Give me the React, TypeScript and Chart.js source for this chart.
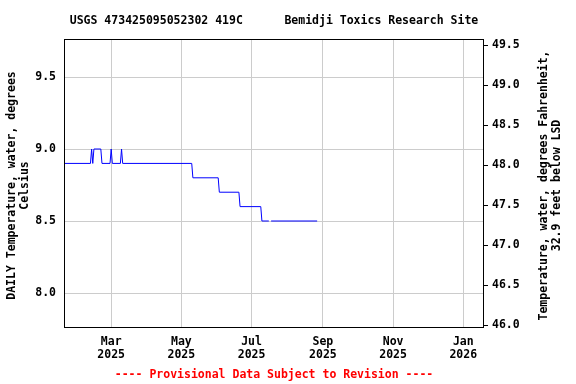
import React, { useEffect, useRef } from "react";
import { Chart, registerables } from "chart.js";

Chart.register(...registerables);

// ---- data ----
const obsDates = [
  "2025-01-19", "2025-02-11", "2025-02-12", "2025-02-13", "2025-02-14",
  "2025-02-20", "2025-02-21", "2025-02-28", "2025-03-01", "2025-03-02",
  "2025-03-09", "2025-03-10", "2025-03-11", "2025-05-10", "2025-05-11",
  "2025-06-02", "2025-06-03", "2025-06-20", "2025-06-21", "2025-07-09",
  "2025-07-10", "2025-07-16", "2025-07-17", "2025-07-18", "2025-08-27",
];
const obsValuesC: (number | null)[] = [
  8.9, 8.9, 9.0, 8.9, 9.0,
  9.0, 8.9, 8.9, 9.0, 8.9,
  8.9, 9.0, 8.9, 8.9, 8.8,
  8.8, 8.7, 8.7, 8.6, 8.6,
  8.5, 8.5, null, 8.5, 8.5,
];
const xRange = ["2025-01-19", "2026-01-19"];
const xTickDates = ["2025-03-01", "2025-05-01", "2025-07-01", "2025-09-01", "2025-11-01", "2026-01-01"];
const monthNames = ["Jan", "Feb", "Mar", "Apr", "May", "Jun", "Jul", "Aug", "Sep", "Oct", "Nov", "Dec"];
const yRangeC = [7.757, 9.764];
const leftTicks = [8.0, 8.5, 9.0, 9.5];
const rightTicks = [46.0, 46.5, 47.0, 47.5, 48.0, 48.5, 49.0, 49.5];

const titleText = "USGS 473425095052302 419C      Bemidji Toxics Research Site";
const leftTitle = ["DAILY Temperature, water, degrees", "Celsius"];
const rightTitle = ["Temperature, water, degrees Fahrenheit,", "32.9 feet below LSD"];
const footerText = "---- Provisional Data Subject to Revision ----";

const FONT_FAMILY = "'DejaVu Sans Mono', monospace";
const FONT_SIZE = 11.5;
const fontSpec = { family: FONT_FAMILY, size: FONT_SIZE, weight: "bold" as const, lineHeight: 1.13 };
const cssFont = `bold ${FONT_SIZE}px ${FONT_FAMILY}`;

const ts = (d: string) => new Date(d + "T00:00:00Z").getTime();
const toF = (c: number) => c * 1.8 + 32;

const decorPlugin = {
  id: "decor",
  afterDatasetsDraw(chart: any) {
    const { ctx, chartArea } = chart;
    const { left, right, top, bottom } = chartArea;
    ctx.save();
    // plot frame
    ctx.strokeStyle = "#000";
    ctx.lineWidth = 1;
    ctx.strokeRect(Math.round(left) + 0.5, Math.round(top) + 0.5, Math.round(right - left) - 1, Math.round(bottom - top) - 1);
    ctx.restore();
  },
  afterDraw(chart: any) {
    const { ctx, chartArea } = chart;
    const { left, right, top, bottom } = chartArea;
    const cx = (left + right) / 2;
    const cy = (top + bottom) / 2 + 2;
    ctx.save();
    ctx.font = cssFont;
    ctx.fillStyle = "#000";
    ctx.textAlign = "center";
    ctx.textBaseline = "middle";
    ctx.fillText(titleText, cx, 21);

    // left axis title
    const drawRot = (lines: string[], xs: number[]) => {
      lines.forEach((ln, i) => {
        ctx.save();
        ctx.translate(xs[i], cy);
        ctx.rotate(-Math.PI / 2);
        ctx.fillText(ln, 0, 0);
        ctx.restore();
      });
    };
    drawRot(leftTitle, [12, 25]);
    drawRot(rightTitle, [544, 557]);

    ctx.fillStyle = "#ff0000";
    ctx.fillText(footerText, cx, 375);
    ctx.restore();
  },
};

export default function App() {
  const canvasRef = useRef<HTMLCanvasElement | null>(null);

  useEffect(() => {
    if (!canvasRef.current) return;
    const points = obsDates.map((d, i) => ({ x: ts(d), y: obsValuesC[i] }));
    const chart = new Chart(canvasRef.current, {
      type: "line",
      data: {
        datasets: [
          {
            data: points as any,
            borderColor: "#0000ff",
            borderWidth: 1,
            pointRadius: 0,
            tension: 0,
            spanGaps: false,
            fill: false,
            yAxisID: "y",
            xAxisID: "x",
          },
        ],
      },
      options: {
        animation: false,
        responsive: false,
        maintainAspectRatio: false,
        layout: { padding: { top: 39, left: 0, right: 0, bottom: 0 } },
        plugins: {
          legend: { display: false },
          tooltip: { enabled: false },
          title: { display: false },
        },
        scales: {
          x: {
            type: "linear",
            position: "bottom",
            min: ts(xRange[0]),
            max: ts(xRange[1]),
            afterFit: (s: any) => {
              s.height = 56;
            },
            afterBuildTicks: (s: any) => {
              s.ticks = xTickDates.map((d) => ({ value: ts(d) }));
            },
            ticks: {
              autoSkip: false,
              maxRotation: 0,
              minRotation: 0,
              padding: 8,
              color: "#000",
              font: fontSpec,
              callback: (v: any) => {
                const dt = new Date(Number(v));
                return [monthNames[dt.getUTCMonth()], String(dt.getUTCFullYear())];
              },
            },
            grid: { color: "#cccccc", lineWidth: 1, drawTicks: false },
            border: { display: false },
          },
          y: {
            type: "linear",
            position: "left",
            min: yRangeC[0],
            max: yRangeC[1],
            afterFit: (s: any) => {
              s.width = 64;
            },
            afterBuildTicks: (s: any) => {
              s.ticks = leftTicks.map((v) => ({ value: v }));
            },
            ticks: {
              padding: 8,
              color: "#000",
              font: fontSpec,
              callback: (v: any) => Number(v).toFixed(1),
            },
            grid: { color: "#cccccc", lineWidth: 1, drawTicks: false },
            border: { display: false },
          },
          y2: {
            type: "linear",
            position: "right",
            min: toF(yRangeC[0]),
            max: toF(yRangeC[1]),
            afterFit: (s: any) => {
              s.width = 92;
            },
            afterBuildTicks: (s: any) => {
              s.ticks = rightTicks.map((v) => ({ value: v }));
            },
            ticks: {
              padding: 4,
              color: "#000",
              font: fontSpec,
              callback: (v: any) => Number(v).toFixed(1),
            },
            grid: { drawOnChartArea: false, drawTicks: true, tickLength: 4, color: "#000", lineWidth: 1 },
            border: { display: false },
          },
        },
      },
      plugins: [decorPlugin],
    });
    return () => chart.destroy();
  }, []);

  return (
    <div style={{ position: "absolute", left: 0, top: 0, width: 576, height: 384, background: "#fff" }}>
      <canvas ref={canvasRef} width={576} height={384} style={{ display: "block" }} />
    </div>
  );
}
